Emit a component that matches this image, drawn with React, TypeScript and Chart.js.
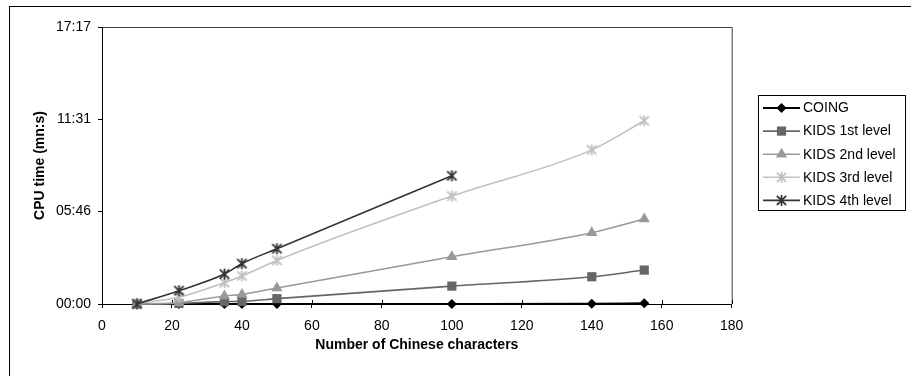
import React, { useEffect, useRef } from 'react';
import { Chart, registerables } from 'chart.js';

Chart.register(...registerables);

const xValues = [10, 22, 35, 40, 50, 100, 140, 155];
const seriesNames = ['COING', 'KIDS 1st level', 'KIDS 2nd level', 'KIDS 3rd level', 'KIDS 4th level'];
const coing = [0, 0, 0, 0, 0, 0, 1, 3];
const kids1 = [0, 2, 9, 10, 20, 67, 102, 127];
const kids2 = [0, 5, 30, 36, 60, 177, 267, 318];
const kids3 = [2, 25, 80, 105, 163, 404, 577, 686];
const kids4 = [0, 50, 112, 151, 207, 480];
const yTickSeconds = [0, 346, 691, 1037];
const xTickValues = [0, 20, 40, 60, 80, 100, 120, 140, 160, 180];

const FONT = "'Liberation Sans', Arial, sans-serif";

function fmtTime(v: number) {
  const s = Math.round(v);
  const mm = Math.floor(s / 60);
  const ss = s % 60;
  return String(mm).padStart(2, '0') + ':' + String(ss).padStart(2, '0');
}

function makeAsterisk(color: string, size: number) {
  const c = document.createElement('canvas');
  c.width = size;
  c.height = size;
  const ctx = c.getContext('2d')!;
  const m = size / 2;
  const r = size / 2 - 1;
  ctx.strokeStyle = color;
  ctx.lineWidth = 1.8;
  ctx.beginPath();
  ctx.moveTo(m, m - r);
  ctx.lineTo(m, m + r);
  const d = r * 0.85;
  ctx.moveTo(m - d, m - d);
  ctx.lineTo(m + d, m + d);
  ctx.moveTo(m + d, m - d);
  ctx.lineTo(m - d, m + d);
  ctx.stroke();
  return c;
}

function drawMarker(ctx: CanvasRenderingContext2D, style: any, x: number, y: number, r: number, color: string) {
  ctx.save();
  ctx.fillStyle = color;
  ctx.strokeStyle = color;
  ctx.lineWidth = 1;
  if (typeof style !== 'string') {
    ctx.drawImage(style, x - style.width / 2, y - style.height / 2);
  } else if (style === 'rectRot') {
    ctx.beginPath();
    ctx.moveTo(x - r, y);
    ctx.lineTo(x, y - r);
    ctx.lineTo(x + r, y);
    ctx.lineTo(x, y + r);
    ctx.closePath();
    ctx.fill();
  } else if (style === 'rect') {
    const s = r * Math.SQRT1_2;
    ctx.fillRect(x - s, y - s, 2 * s, 2 * s);
  } else if (style === 'triangle') {
    ctx.beginPath();
    ctx.moveTo(x, y - r);
    ctx.lineTo(x + r * Math.cos(Math.PI / 6), y + r / 2);
    ctx.lineTo(x - r * Math.cos(Math.PI / 6), y + r / 2);
    ctx.closePath();
    ctx.fill();
  }
  ctx.restore();
}

export default function App() {
  const ref = useRef<HTMLCanvasElement | null>(null);

  useEffect(() => {
    if (!ref.current) return;
    const colors = ['#000000', '#666666', '#999999', '#c0c0c0', '#333333'];
    const styles: any[] = ['rectRot', 'rect', 'triangle', makeAsterisk('#c0c0c0', 13), makeAsterisk('#333333', 13)];
    const radii = [5, 6.5, 6.5, 6.5, 6.5];
    const series = [coing, kids1, kids2, kids3, kids4];

    const datasets = series.map((arr, i) => ({
      label: seriesNames[i],
      data: arr.map((v, j) => ({ x: xValues[j], y: v })),
      borderColor: colors[i],
      backgroundColor: colors[i],
      pointBackgroundColor: colors[i],
      pointBorderColor: colors[i],
      pointStyle: styles[i],
      pointRadius: radii[i],
      pointBorderWidth: 0,
      borderWidth: i === 0 ? 2 : 1.6,
      cubicInterpolationMode: 'monotone' as const,
      clip: false as any,
      order: 5 - i,
    }));

    const decor = {
      id: 'decor',
      beforeDraw(chart: any) {
        const ctx = chart.ctx;
        ctx.save();
        ctx.fillStyle = '#ffffff';
        ctx.fillRect(0, 0, chart.width, chart.height);
        ctx.strokeStyle = '#000';
        ctx.lineWidth = 1;
        ctx.strokeRect(9.5, 6.5, 1200, 1200);
        const a = chart.chartArea;
        ctx.strokeStyle = '#404040';
        ctx.beginPath();
        ctx.moveTo(a.left, a.top + 0.5);
        ctx.lineTo(a.right + 0.5, a.top + 0.5);
        ctx.lineTo(a.right + 0.5, a.bottom);
        ctx.stroke();
        const xs = chart.scales.x;
        ctx.strokeStyle = '#000';
        ctx.beginPath();
        xTickValues.forEach((v) => {
          if (v === 0) return;
          const px = Math.round(xs.getPixelForValue(v)) + 0.5;
          ctx.moveTo(px, a.bottom);
          ctx.lineTo(px, a.bottom - 4);
        });
        ctx.stroke();
        ctx.restore();
      },
      afterDraw(chart: any) {
        const ctx = chart.ctx;
        ctx.save();
        const left = 758.5, top = 95.5, w = 147, h = 115;
        ctx.strokeStyle = '#000';
        ctx.lineWidth = 1;
        ctx.strokeRect(left, top, w, h);
        ctx.font = `14px ${FONT}`;
        ctx.textBaseline = 'middle';
        ctx.textAlign = 'left';
        seriesNames.forEach((name, i) => {
          const y = 108 + i * 23.1;
          ctx.strokeStyle = colors[i];
          ctx.lineWidth = i === 0 ? 2 : 1.6;
          ctx.beginPath();
          ctx.moveTo(763, y);
          ctx.lineTo(800, y);
          ctx.stroke();
          drawMarker(ctx, styles[i], 781.5, y, radii[i], colors[i]);
          ctx.fillStyle = '#000';
          ctx.fillText(name, 803, y + 0.5);
        });
        ctx.restore();
      },
    };

    const chart = new Chart(ref.current, {
      type: 'line',
      data: { datasets: datasets as any },
      plugins: [decor],
      options: {
        animation: false,
        responsive: false,
        devicePixelRatio: 1,
        layout: { padding: { left: 0, top: 27, right: 179.3, bottom: 0 } },
        plugins: {
          legend: { display: false },
          tooltip: { enabled: false },
        },
        scales: {
          x: {
            type: 'linear',
            min: 0,
            max: 180,
            afterBuildTicks: (s: any) => {
              s.ticks = xTickValues.map((v) => ({ value: v }));
            },
            afterFit: (s: any) => {
              s.height = 72;
            },
            ticks: {
              color: '#000',
              font: { family: FONT, size: 14 },
              padding: 10,
              maxRotation: 0,
              autoSkip: false,
            },
            grid: { drawOnChartArea: false, drawTicks: true, tickLength: 4, color: '#000' },
            border: { display: true, color: '#000', width: 1 },
            title: {
              display: true,
              text: 'Number of Chinese characters',
              color: '#000',
              font: { family: FONT, size: 14, weight: 'bold' },
              padding: { top: 0, bottom: 22 },
            },
          },
          y: {
            type: 'linear',
            min: 0,
            max: 1037,
            afterBuildTicks: (s: any) => {
              s.ticks = yTickSeconds.map((v) => ({ value: v }));
            },
            afterFit: (s: any) => {
              s.width = 102;
            },
            ticks: {
              color: '#000',
              font: { family: FONT, size: 14 },
              padding: 7,
              autoSkip: false,
              callback: (v: any) => fmtTime(Number(v)),
            },
            grid: { drawOnChartArea: false, drawTicks: true, tickLength: 4, color: '#000' },
            border: { display: true, color: '#000', width: 1 },
            title: {
              display: true,
              text: 'CPU time (mn:s)',
              color: '#000',
              font: { family: FONT, size: 14, weight: 'bold' },
              padding: { top: 31.6, bottom: 0 },
            },
          },
        },
      },
    });
    return () => chart.destroy();
  }, []);

  return (
    <div style={{ position: 'absolute', left: 0, top: 0, width: 911, height: 376 }}>
      <canvas ref={ref} width={911} height={376} style={{ display: 'block', width: 911, height: 376 }} />
    </div>
  );
}
